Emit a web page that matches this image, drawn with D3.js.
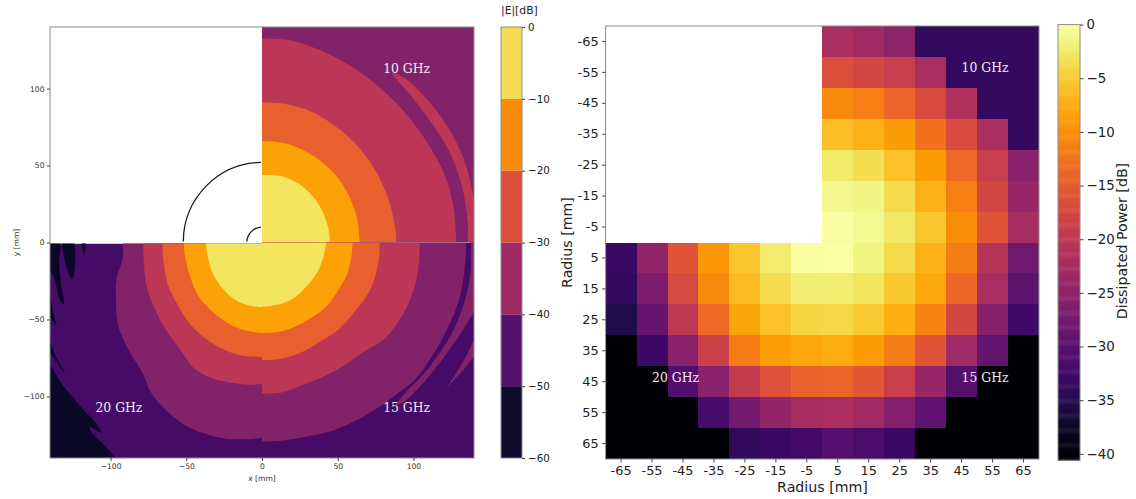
<!DOCTYPE html>
<html lang='en'>
<head>
  <meta charset='utf-8'/>
  <title>Field and dissipated power maps</title>
  <script src='https://d3js.org/d3.v7.min.js'></script>
  <style>
    body{margin:0;background:#ffffff;font-family:'DejaVu Sans',sans-serif;}
    svg{display:block;}
    .tick line{stroke:#444;}
    .band-label{font-family:'DejaVu Serif',serif;font-size:12.4px;fill:#f1e8ef;}
  </style>
</head>
<body>
<svg id='chart' width='1136' height='499'></svg>

<script>
// --- Left map: contour outlines in mm ---
const levels = [-60, -50, -40, -30, -20, -10, 0];
const mapTicks = [-100, -50, 0, 50, 100];
const levelTicks = [0, -10, -20, -30, -40, -50, -60];
const circleRadii = [52, 10];

// 10 GHz quadrant (top right)
const q10Red = [[0,132.7],[15.4,131.8],[30.9,127.9],[46.3,121.4],[61.7,112.7],[74.9,103],[88.2,91.1],[101.4,75.8],[112.4,59.7],[121.2,42.4],[126.1,25.1],[127.8,10],[128.3,0]];
const q10Coral = [[0,91.1],[15.4,90],[30.9,85.7],[46.3,77.1],[61.7,64.1],[74.9,46.8],[83.7,27.3],[88.2,7.8],[88.6,0]];
const q10Orange = [[0,66],[13.2,64.9],[26.4,60.4],[39.7,52.2],[50.7,41.3],[58.4,28.4],[62.8,15.4],[64.6,0]];
const q10Yellow = [[0,43.9],[13.2,43.1],[24.2,38.1],[33.1,30.5],[39.7,20.8],[43.6,10],[45,0]];
const q10Sliver = [[86,110.2],[94.8,106.3],[105.8,96.5],[116.8,83.5],[126.7,68.3],[134.4,51],[138.8,33.8],[141,20],[141,0],[136.6,0],[136,12.1],[132.2,35.9],[123.4,59.7],[112.4,77],[99.2,94.4]];

// 15 GHz quadrant (bottom right)
const q15Purple = [[0,-129.4],[13.2,-128.8],[28.7,-126.2],[46.3,-122.3],[63.9,-114.7],[77.1,-107.1],[90.4,-97.4],[101.4,-88.7],[112.4,-73.6],[121.2,-58.4],[128.9,-41.1],[133.3,-21.6],[134.9,-1.1],[134.9,0]];
const q15Red = [[0,-98.3],[13.2,-97.4],[28.7,-92],[44.1,-85.5],[57.3,-77.9],[68.3,-70.3],[79.3,-63.9],[88.2,-54.1],[97,-39],[102.5,-21.6],[104.2,-1.7],[104.2,0]];
const q15Coral = [[0,-76.4],[11,-75.8],[24.2,-72.1],[37.5,-64.9],[50.7,-56.3],[61.7,-44.4],[70.5,-32.5],[75.4,-19.5],[77.6,-6.5],[77.6,0]];
const q15Orange = [[0,-58.9],[11,-58],[22,-54.5],[33.1,-48.7],[43,-41.1],[50.7,-30.3],[56.2,-20.6],[59.1,-8.7],[59.9,0]];
const q15Yellow = [[0,-41.6],[8.8,-40.7],[19.8,-36.8],[28.7,-29.2],[36.4,-19.5],[40.8,-8.7],[42.3,0]];
const q15SliverA = [[138.8,1],[137.7,-19.5],[133.3,-40],[125.6,-58.4],[116.8,-72.5],[105.8,-86.6],[95.9,-96.3],[88.2,-106],[94.8,-102.8],[105.8,-92],[116.8,-79],[125.6,-67.1],[134.4,-54.1],[141,-41],[141,1]];
const q15SliverB = [[141,-62],[134.4,-74.7],[127.8,-85.5],[123,-93.1],[127.8,-88.3],[134.4,-81.2],[141,-71]];

// 20 GHz quadrant (bottom left)
const q20Purple = [[-92.1,0],[-92.1,-10.8],[-96.1,-23.8],[-96.5,-34.6],[-94.9,-54.1],[-88.3,-69.3],[-78.5,-85.5],[-74.1,-96.3],[-65.3,-107.1],[-52.1,-118],[-36.6,-124.5],[-21.2,-127.7],[-7.9,-127.7],[0,-126.8]];
const q20Red = [[-78.5,0],[-78,-13],[-76.3,-28.1],[-69.7,-45.5],[-63.1,-57.4],[-54.2,-69.3],[-45.4,-81.2],[-34.4,-87.7],[-21.2,-90.9],[-7.9,-92.4],[0,-92]];
const q20Coral = [[-65.7,0],[-65.2,-10.8],[-61.9,-28.1],[-55.3,-41.1],[-47.6,-53],[-36.6,-62.8],[-23.4,-70.3],[-12.3,-73.6],[0,-74.5]];
const q20Orange = [[-51.6,0],[-50.9,-8.7],[-47.6,-21.6],[-42.1,-34.6],[-34.4,-43.3],[-23.4,-51.9],[-12.3,-56.7],[0,-58.9]];
const q20Yellow = [[-37,0],[-35.5,-10.8],[-32.2,-20.6],[-25.6,-30.3],[-16.7,-37.9],[-7.9,-41.1],[0,-42.2]];
const q20Corner = [[-141,-80],[-131.4,-93.1],[-120.3,-106.1],[-109.3,-118],[-106,-123.4],[-113.7,-120.1],[-112.6,-123.4],[-104.9,-131],[-97.2,-139.6],[-97,-141],[-141,-141]];
const q20Flecks = [
  [[-141,1],[-133.6,1],[-134,-13],[-132.5,-28.1],[-130.9,-40],[-133.6,-36.8],[-136.9,-23.8],[-141,-15.2]],
  [[-141,-28.1],[-137.9,-45.5],[-135.8,-53.7],[-138.4,-50.9],[-141,-44.4]],
  [[-131.8,1],[-124.7,1],[-125.2,-23.8],[-128,-19.5],[-130.9,-8.7]],
  [[-118.8,1],[-116.8,1],[-117.5,-7.6],[-118.6,-4.3]],
  [[-141,-63],[-135.8,-74.7],[-130.2,-84.8],[-136.9,-75.8],[-141,-68.5]],
  [[-136.9,-96.3],[-133.1,-101.7],[-135.5,-100.4]]
];

const bandLabels = [
  {text: '10 GHz', x: 80, y: 110},
  {text: '15 GHz', x: 80, y: -110},
  {text: '20 GHz', x: -110, y: -110}
];

// --- Right map: dissipated power per cell in dB (null = blank quadrant) ---
const radii = [-65, -55, -45, -35, -25, -15, -5, 5, 15, 25, 35, 45, 55, 65];
const powerTicks = [0, -5, -10, -15, -20, -25, -30, -35, -40];
const powerRows = [
  [null,null,null,null,null,null,null,-22,-23,-25,-33.7,-33.7,-33.7,-33.7],
  [null,null,null,null,null,null,null,-16.5,-17.5,-19,-22,-33.7,-33.7,-33.7],
  [null,null,null,null,null,null,null,-10.5,-11.5,-14,-17,-21.5,-33.7,-33.7],
  [null,null,null,null,null,null,null,-6,-7,-8.8,-12.8,-17,-22,-33.7],
  [null,null,null,null,null,null,null,-2.5,-3.4,-5.8,-9,-13.5,-19,-25.5],
  [null,null,null,null,null,null,null,-1,-1.4,-3.7,-7,-11.5,-17.5,-24],
  [null,null,null,null,null,null,null,-0.3,-0.8,-2.6,-5.5,-10.3,-16,-22.5],
  [-33.3,-24.5,-16,-9.3,-5.5,-2.3,-0.2,-0.1,-1.5,-3.7,-7,-11.7,-21,-28],
  [-33.8,-26.5,-17.2,-10.5,-6.3,-3.5,-2,-2.2,-3,-5.2,-7.8,-13.8,-22.3,-29.8],
  [-35.5,-29,-20,-13.5,-8.2,-5.8,-4.2,-4,-5,-7.2,-11,-17.5,-25.7,-32.5],
  [-40.6,-32.8,-25.5,-18.5,-11.8,-8.7,-8,-7.5,-9,-11.6,-16,-23,-29.2,-40.6],
  [-40.6,-40.6,-30.8,-25.5,-19.5,-16.3,-14.3,-14,-15.5,-18.8,-24,-30.5,-40.6,-40.6],
  [-40.6,-40.6,-40.6,-32,-27.5,-24.3,-22.5,-22,-23,-26,-29.5,-40.6,-40.6,-40.6],
  [-40.6,-40.6,-40.6,-40.6,-34,-33,-32.2,-30.5,-31.5,-33,-40.6,-40.6,-40.6,-40.6]
];

const svg = d3.select('#chart');
const spine = '#8c8c8c';

// Scales
const mapX = d3.scaleLinear().domain([-140, 140]).range([50, 474]);
const mapY = d3.scaleLinear().domain([-140, 140]).range([458, 27]);
const levelY = d3.scaleLinear().domain([-60, 0]).range([458, 27]);
const heatX = d3.scaleBand().domain(radii).range([605.6, 1039]);
const heatY = d3.scaleBand().domain(radii).range([26, 459]);
const powerY = d3.scaleLinear().domain([-40.6, 0]).range([460.3, 24.6]);
const powerColor = d3.scaleSequential(d3.interpolateInferno).domain([-40.6, 0]);

// the picture fills and its colour bar do not share the same shades
const mapFill = {navy: '#0b0726', violet: '#450b66', purple: '#822269', red: '#bb3755', coral: '#e8602d', orange: '#fca108', yellow: '#f3e55d'};
const levelFill = d3.scaleThreshold().domain([-50, -40, -30, -20, -10])
  .range(['#0f0a2d', '#56106e', '#9e2a63', '#da4e3b', '#f98c0a', '#f4dd52']);

// Contour helpers
const contour = d3.line().x(d => mapX(d[0])).y(d => mapY(d[1])).curve(d3.curveCatmullRom);
const closedContour = d3.line().x(d => mapX(d[0])).y(d => mapY(d[1])).curve(d3.curveCatmullRomClosed.alpha(0.5));

function addBand(g, pts, fill) {
  g.append('path')
    .attr('d', contour(pts) + `L${mapX(0)},${mapY(0)}Z`)
    .attr('fill', fill);
}
function addPatch(g, pts, fill) {
  g.append('path').attr('d', closedContour(pts)).attr('fill', fill);
}
function addQuadrant(id, x0, x1, y0, y1, background) {
  svg.select('defs').append('clipPath').attr('id', id).append('rect')
    .attr('x', mapX(x0)).attr('y', mapY(y1))
    .attr('width', mapX(x1) - mapX(x0)).attr('height', mapY(y0) - mapY(y1));
  const g = svg.append('g').attr('clip-path', `url(#${id})`);
  g.append('rect')
    .attr('x', mapX(x0)).attr('y', mapY(y1))
    .attr('width', mapX(x1) - mapX(x0)).attr('height', mapY(y0) - mapY(y1))
    .attr('fill', background);
  return g;
}

svg.append('defs');

// 10 GHz
const q10 = addQuadrant('q10', 0, 140, 0, 140, mapFill.purple);
addPatch(q10, q10Sliver, mapFill.red);
addBand(q10, q10Red, mapFill.red);
addBand(q10, q10Coral, mapFill.coral);
addBand(q10, q10Orange, mapFill.orange);
addBand(q10, q10Yellow, mapFill.yellow);

// 15 GHz
const q15 = addQuadrant('q15', 0, 140, -140, 0, mapFill.violet);
addPatch(q15, q15SliverA, mapFill.purple);
addPatch(q15, q15SliverB, mapFill.purple);
addBand(q15, q15Purple, mapFill.purple);
addBand(q15, q15Red, mapFill.red);
addBand(q15, q15Coral, mapFill.coral);
addBand(q15, q15Orange, mapFill.orange);
addBand(q15, q15Yellow, mapFill.yellow);

// 20 GHz
const q20 = addQuadrant('q20', -140, 0, -140, -0.7, mapFill.violet);
addPatch(q20, q20Corner, mapFill.navy);
q20Flecks.forEach(f => addPatch(q20, f, mapFill.navy));
addBand(q20, q20Purple, mapFill.purple);
addBand(q20, q20Red, mapFill.red);
addBand(q20, q20Coral, mapFill.coral);
addBand(q20, q20Orange, mapFill.orange);
addBand(q20, q20Yellow, mapFill.yellow);

// Quarter circles in the blank quadrant
svg.selectAll('.ring').data(circleRadii).enter().append('path')
  .attr('class', 'ring')
  .attr('fill', 'none')
  .attr('stroke', '#1c1c1c')
  .attr('stroke-width', 1.3)
  .attr('d', r => {
    const rx = mapX(0) - mapX(-r), ry = mapY(0) - mapY(r);
    return `M${mapX(-r)},${mapY(0) - 1}A${rx},${ry} 0 0 1 ${mapX(0) - 1},${mapY(r)}`;
  });

svg.selectAll('.map-label').data(bandLabels).enter().append('text')
  .attr('class', 'band-label map-label')
  .attr('x', d => mapX(d.x))
  .attr('y', d => mapY(d.y))
  .text(d => d.text);

svg.append('rect')
  .attr('x', mapX(-140)).attr('y', mapY(140))
  .attr('width', mapX(140) - mapX(-140)).attr('height', mapY(-140) - mapY(140))
  .attr('fill', 'none').attr('stroke', spine);

// Left axes
function styleAxis(g, size, color) {
  g.select('.domain').remove();
  g.selectAll('.tick text').attr('font-size', size).attr('font-family', "'DejaVu Sans',sans-serif").attr('fill', color);
  g.selectAll('.tick line').attr('stroke', color);
}
svg.append('g').attr('transform', `translate(0,${mapY(-140)})`)
  .call(d3.axisBottom(mapX).tickValues(mapTicks).tickSize(3).tickPadding(2.5))
  .call(styleAxis, 7.6, '#333');
svg.append('g').attr('transform', `translate(${mapX(-140)},0)`)
  .call(d3.axisLeft(mapY).tickValues(mapTicks).tickSize(3).tickPadding(2.5))
  .call(styleAxis, 7.6, '#333');

svg.append('text').attr('x', mapX(0)).attr('y', 480.5).attr('text-anchor', 'middle')
  .attr('font-size', 7.6).attr('fill', '#333').text('x [mm]');
svg.append('text').attr('transform', `translate(18.5,${mapY(0)}) rotate(-90)`).attr('text-anchor', 'middle')
  .attr('font-size', 7.6).attr('fill', '#333').text('y [mm]');

// Left colour bar
const levelSteps = d3.pairs(levels);
svg.selectAll('.level-step').data(levelSteps).enter().append('rect')
  .attr('class', 'level-step')
  .attr('x', 501).attr('width', 21)
  .attr('y', d => levelY(d[1]))
  .attr('height', d => levelY(d[0]) - levelY(d[1]))
  .attr('fill', d => levelFill(d[0] + 1));
svg.append('rect').attr('x', 501).attr('y', levelY(0)).attr('width', 21).attr('height', levelY(-60) - levelY(0))
  .attr('fill', 'none').attr('stroke', spine);
svg.append('g').attr('transform', 'translate(522,0)')
  .call(d3.axisRight(levelY).tickValues(levelTicks).tickSize(3).tickPadding(3))
  .call(styleAxis, 10.4, '#222');
svg.append('text').attr('x', 501).attr('y', 13.5).attr('font-size', 10.8).attr('fill', '#222').text('|E|[dB]');

// Right heat map
svg.append('g').selectAll('g').data(powerRows).enter().append('g')
  .attr('transform', (d, i) => `translate(0,${heatY(radii[i])})`)
  .selectAll('rect')
  .data(d => d.map((value, i) => ({value, col: radii[i]})).filter(c => c.value !== null))
  .enter().append('rect')
  .attr('x', d => heatX(d.col))
  .attr('width', heatX.bandwidth())
  .attr('height', heatY.bandwidth())
  .attr('shape-rendering', 'crispEdges')
  .attr('fill', d => powerColor(d.value));

[{text: '10 GHz', col: 45, row: -55}, {text: '15 GHz', col: 45, row: 45}, {text: '20 GHz', col: -55, row: 45}]
  .forEach(d => {
    svg.append('text').attr('class', 'band-label')
      .attr('x', heatX(d.col) + heatX.bandwidth() / 2)
      .attr('y', heatY(d.row) + heatY.bandwidth() / 2)
      .text(d.text);
  });

svg.append('rect')
  .attr('x', 605.6).attr('y', 26).attr('width', 1039 - 605.6).attr('height', 459 - 26)
  .attr('fill', 'none').attr('stroke', spine);

svg.append('g').attr('transform', 'translate(0,459)')
  .call(d3.axisBottom(heatX).tickSize(3.5).tickPadding(3.5).tickFormat(d => String(d)))
  .call(styleAxis, 12.9, '#222');
svg.append('g').attr('transform', 'translate(605.6,0)')
  .call(d3.axisLeft(heatY).tickSize(3.5).tickPadding(3.5).tickFormat(d => String(d)))
  .call(styleAxis, 12.9, '#222');

svg.append('text').attr('x', 822.5).attr('y', 492).attr('text-anchor', 'middle')
  .attr('font-size', 14.2).attr('fill', '#222').text('Radius [mm]');
svg.append('text').attr('transform', 'translate(572,242.5) rotate(-90)').attr('text-anchor', 'middle')
  .attr('font-size', 14.2).attr('fill', '#222').text('Radius [mm]');

// Right colour bar, thin strips along the scale
const stripValues = d3.range(-40.6, 0, 0.1);
svg.append('g').selectAll('rect').data(stripValues).enter().append('rect')
  .attr('x', 1058).attr('width', 22)
  .attr('y', d => powerY(d + 0.1))
  .attr('height', d => powerY(d) - powerY(d + 0.1) + 0.5)
  .attr('fill', d => powerColor(d));
svg.append('rect').attr('x', 1058).attr('y', powerY(0)).attr('width', 22).attr('height', powerY(-40.6) - powerY(0))
  .attr('fill', 'none').attr('stroke', spine);
svg.append('g').attr('transform', 'translate(1080,0)')
  .call(d3.axisRight(powerY).tickValues(powerTicks).tickSize(3.5).tickPadding(3))
  .call(styleAxis, 13.4, '#222');
svg.append('text').attr('transform', 'translate(1127,241) rotate(-90)').attr('text-anchor', 'middle')
  .attr('font-size', 14.2).attr('fill', '#222').text('Dissipated Power [dB]');
</script>
</body>
</html>
